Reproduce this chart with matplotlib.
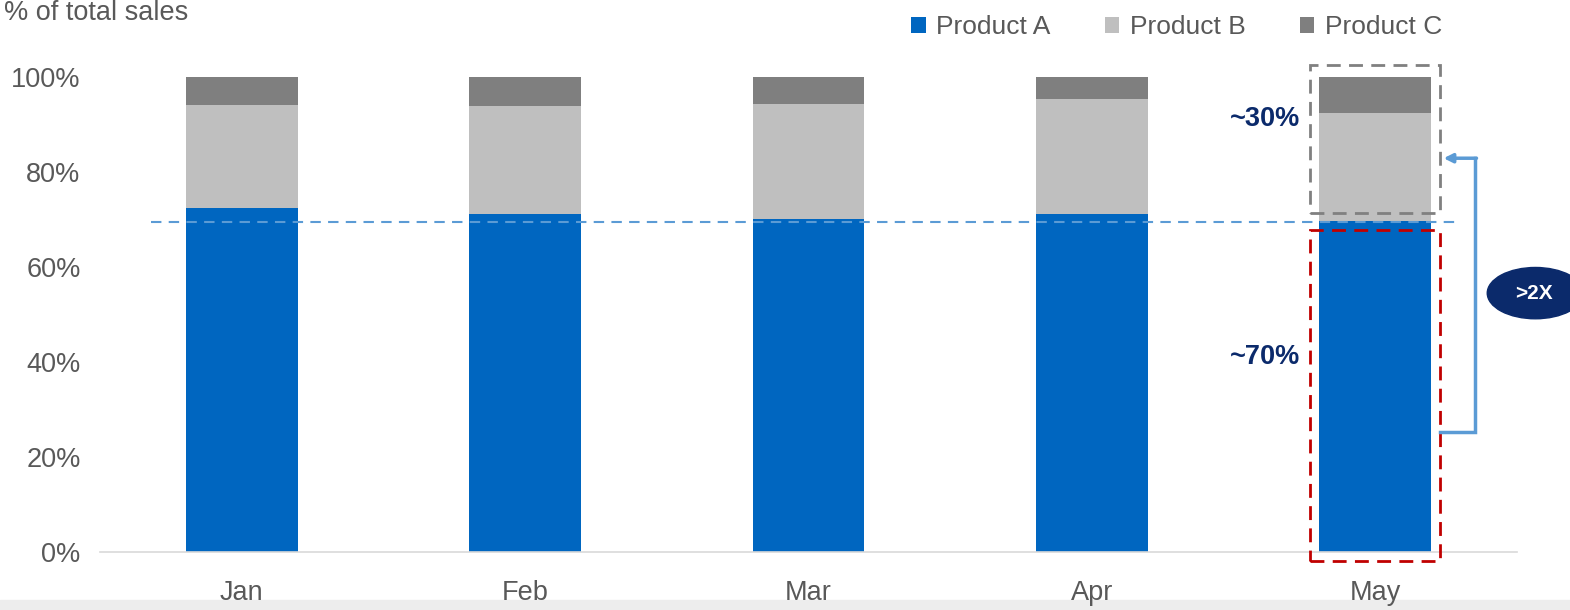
import matplotlib
matplotlib.use("Agg")
import matplotlib.pyplot as plt
from matplotlib.patches import Rectangle, Ellipse

plt.rcParams['font.family'] = ['Liberation Sans', 'DejaVu Sans']

months = ["Jan", "Feb", "Mar", "Apr", "May"]
product_a = [72.4, 71.2, 70.1, 71.2, 69.7]
product_b = [21.7, 22.7, 24.2, 24.2, 22.7]
product_c = [5.9, 6.1, 5.7, 4.6, 7.6]
yticks = [0, 20, 40, 60, 80, 100]
ytick_labels = ["0%", "20%", "40%", "60%", "80%", "100%"]
ref_line = 69.5

col_a = "#0066C0"
col_b = "#BFBFBF"
col_c = "#7F7F7F"
txt = "#595959"
navy = "#0B2A6B"

fig = plt.figure(figsize=(15.7, 6.1), dpi=100)
ax = fig.add_axes([100/1570, 58/610, 1417/1570, 475/610])

x = list(range(len(months)))
w = 0.395
bottom_b = product_a
bottom_c = [a + b for a, b in zip(product_a, product_b)]
ba = ax.bar(x, product_a, w, color=col_a, label="Product A", zorder=2)
bb = ax.bar(x, product_b, w, bottom=bottom_b, color=col_b, label="Product B", zorder=2)
bc = ax.bar(x, product_c, w, bottom=bottom_c, color=col_c, label="Product C", zorder=2)

ax.set_xlim(-0.5, 4.5)
ax.set_ylim(0, 100)
ax.set_yticks(yticks)
ax.set_yticklabels(ytick_labels)
ax.set_xticks(x)
ax.set_xticklabels(months)
ax.tick_params(axis='both', length=0, labelsize=19.5, labelcolor=txt)
ax.tick_params(axis='y', pad=14)
ax.tick_params(axis='x', pad=20)
for s in ["top", "right", "left"]:
    ax.spines[s].set_visible(False)
ax.spines["bottom"].set_color("#D9D9D9")
ax.spines["bottom"].set_linewidth(1.2)

# reference dashed line
ax.plot([-0.32, 4.3], [ref_line, ref_line], ls=(0, (5, 3.5)), color="#5B9BD5", lw=1.5, zorder=3, clip_on=False)

# annotation boxes around May
i = 4
gx0, gx1 = i - 0.229, i + 0.229
ax.add_patch(Rectangle((gx0, 71.4), gx1 - gx0, 102.5 - 71.4, fill=False, ec="#808080",
                       lw=2, ls=(0, (5, 3)), clip_on=False, zorder=4))
ax.add_patch(Rectangle((gx0, -1.9), gx1 - gx0, 67.8 + 1.9, fill=False, ec="#C00000",
                       lw=2, ls=(0, (5, 3)), clip_on=False, zorder=4))

# arrow bracket
ax.plot([gx1, 4.353, 4.353], [25.3, 25.3, 82.9], color="#5B9BD5", lw=2.5, clip_on=False, zorder=4,
        solid_joinstyle='miter')
ax.annotate("", xy=(gx1 + 0.012, 82.9), xytext=(4.353 + 0.004, 82.9),
            arrowprops=dict(arrowstyle="-|>", color="#5B9BD5", lw=2.5, mutation_scale=13,
                            shrinkA=0, shrinkB=0), annotation_clip=False, zorder=4)

ax.add_patch(Ellipse((4.565, 54.5), 0.34, 10.8, color=navy, clip_on=False, zorder=4))
ax.text(4.56, 54.5, ">2X", color="white", fontsize=15, fontweight="bold", ha="center", va="center",
        zorder=5, clip_on=False)

ax.text(3.735, 91.2, "~30%", color=navy, fontsize=19.5, fontweight="bold", ha="right", va="center")
ax.text(3.735, 41.0, "~70%", color=navy, fontsize=19.5, fontweight="bold", ha="right", va="center")

# y label
fig.text(4/1570, 1 - 13/610, "% of total sales", fontsize=19.5, color=txt, ha="left", va="center")

leg = fig.legend(handles=[ba, bb, bc], labels=["Product A", "Product B", "Product C"],
                 loc="center right", bbox_to_anchor=(1442/1570, 1 - 27/610), ncol=3, frameon=False,
                 fontsize=19, handlelength=0.55, handleheight=0.55, handletextpad=0.4,
                 columnspacing=2.05, borderaxespad=0, borderpad=0)
for t in leg.get_texts():
    t.set_color(txt)

# bottom gray band (video overlay)
fig.add_artist(Rectangle((0, 0), 1, 10/610, transform=fig.transFigure, color="#EDEDED", zorder=0))

fig.savefig("out.png", dpi=100)
